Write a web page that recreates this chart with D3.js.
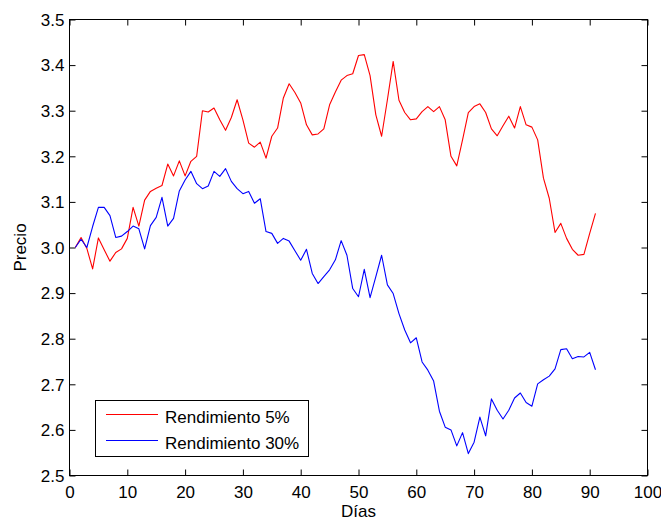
<!DOCTYPE html>
<html>
<head>
<meta charset="utf-8">
<script src="https://cdn.jsdelivr.net/npm/d3@7"></script>
<style>
  html, body { margin: 0; padding: 0; background: #fff; }
  svg { display: block; font-family: "Liberation Sans", Arial, sans-serif; }
</style>
</head>
<body>
<svg id="chart" width="661" height="522"></svg>
<script>
// Simulated price paths, one value per trading day (days 1..91)
const days = d3.range(1, 92);

const rend5 = [
  3.000, 3.022, 2.998, 2.953, 3.021, 2.995, 2.970, 2.989, 2.997, 3.020,
  3.088, 3.047, 3.104, 3.123, 3.130, 3.136, 3.183, 3.157, 3.190, 3.157,
  3.189, 3.200, 3.300, 3.297, 3.306, 3.280, 3.257, 3.285, 3.324, 3.280,
  3.229, 3.220, 3.231, 3.196, 3.244, 3.262, 3.328, 3.359, 3.340, 3.317,
  3.269, 3.247, 3.249, 3.260, 3.313, 3.341, 3.367, 3.377, 3.381, 3.421,
  3.423, 3.377, 3.291, 3.244, 3.324, 3.408, 3.323, 3.296, 3.280, 3.282,
  3.298, 3.309, 3.298, 3.309, 3.280, 3.200, 3.179, 3.236, 3.296, 3.309,
  3.315, 3.296, 3.260, 3.245, 3.267, 3.288, 3.262, 3.309, 3.269, 3.264,
  3.236, 3.152, 3.108, 3.033, 3.053, 3.020, 2.996, 2.983, 2.985, 3.031,
  3.075
];

const rend30 = [
  3.000, 3.018, 3.000, 3.046, 3.088, 3.088, 3.070, 3.022, 3.025, 3.035,
  3.047, 3.041, 2.997, 3.048, 3.066, 3.110, 3.047, 3.064, 3.124, 3.148,
  3.167, 3.140, 3.129, 3.135, 3.167, 3.156, 3.173, 3.145, 3.129, 3.118,
  3.123, 3.097, 3.107, 3.035, 3.031, 3.009, 3.020, 3.014, 2.993, 2.972,
  2.996, 2.943, 2.921, 2.936, 2.951, 2.973, 3.015, 2.983, 2.910, 2.892,
  2.952, 2.890, 2.936, 2.983, 2.918, 2.899, 2.855, 2.819, 2.791, 2.802,
  2.749, 2.731, 2.707, 2.641, 2.606, 2.600, 2.565, 2.594, 2.548, 2.573,
  2.628, 2.587, 2.668, 2.643, 2.624, 2.643, 2.670, 2.681, 2.660, 2.652,
  2.701, 2.710, 2.718, 2.734, 2.776, 2.778, 2.756, 2.761, 2.760, 2.770,
  2.732
];

const seriesNames = ["Rendimiento 5%", "Rendimiento 30%"];
const seriesColors = ["#ff0000", "#0000ff"];
const xTicks = [0, 10, 20, 30, 40, 50, 60, 70, 80, 90, 100];
const yTicks = [2.5, 2.6, 2.7, 2.8, 2.9, 3.0, 3.1, 3.2, 3.3, 3.4, 3.5];

const svg = d3.select("#chart");
const plotLeft = 69.5, plotRight = 647.5, plotTop = 19.5, plotBottom = 475.5;
const fontSize = 17;

const x = d3.scaleLinear().domain([0, 100]).range([plotLeft, plotRight]);
const y = d3.scaleLinear().domain([2.5, 3.5]).range([plotBottom, plotTop]);

// Axes with inward ticks on all four sides
const tick = 6;
const gx = svg.append("g").attr("transform", `translate(0,${plotBottom})`)
  .call(d3.axisBottom(x).tickValues(xTicks).tickSizeInner(-tick).tickSizeOuter(0).tickPadding(10)
    .tickFormat(d3.format("d")));
const gy = svg.append("g").attr("transform", `translate(${plotLeft},0)`)
  .call(d3.axisLeft(y).tickValues(yTicks).tickSizeInner(-tick).tickSizeOuter(0).tickPadding(5)
    .tickFormat(d => d3.format(".1f")(d)));
const gt = svg.append("g").attr("transform", `translate(0,${plotTop})`)
  .call(d3.axisTop(x).tickValues(xTicks).tickSizeInner(-tick).tickSizeOuter(0).tickFormat(""));
const gr = svg.append("g").attr("transform", `translate(${plotRight},0)`)
  .call(d3.axisRight(y).tickValues(yTicks).tickSizeInner(-tick).tickSizeOuter(0).tickFormat(""));

[gx, gy, gt, gr].forEach(g => {
  g.select(".domain").remove();
  g.selectAll("line").attr("stroke", "#000").attr("stroke-width", 1);
  g.selectAll("text").attr("font-size", fontSize).attr("fill", "#000")
    .attr("font-family", "'Liberation Sans', Arial, sans-serif");
});
gy.selectAll("text").attr("dy", "0.34em");

// Plot box
svg.append("rect")
  .attr("x", plotLeft).attr("y", plotTop)
  .attr("width", plotRight - plotLeft).attr("height", plotBottom - plotTop)
  .attr("fill", "none").attr("stroke", "#000").attr("stroke-width", 1);

// Price lines
const line = d3.line().x((d, i) => x(days[i])).y(d => y(d));
[rend5, rend30].forEach((vals, k) => {
  svg.append("path")
    .datum(vals)
    .attr("d", line)
    .attr("fill", "none")
    .attr("stroke", seriesColors[k])
    .attr("stroke-width", 1.1)
    .attr("stroke-linejoin", "round");
});

// Axis labels
svg.append("text")
  .attr("x", (plotLeft + plotRight) / 2).attr("y", 517)
  .attr("text-anchor", "middle").attr("font-size", fontSize)
  .text("Días");
svg.append("text")
  .attr("transform", `translate(26,${(plotTop + plotBottom) / 2}) rotate(-90)`)
  .attr("text-anchor", "middle").attr("font-size", fontSize)
  .text("Precio");

// Legend
const lg = svg.append("g");
lg.append("rect")
  .attr("x", 95.5).attr("y", 400.5).attr("width", 213).attr("height", 56)
  .attr("fill", "#fff").attr("stroke", "#000").attr("stroke-width", 1);
seriesNames.forEach((name, k) => {
  const yy = 414.5 + k * 26;
  lg.append("line")
    .attr("x1", 106).attr("x2", 158).attr("y1", yy).attr("y2", yy)
    .attr("stroke", seriesColors[k]).attr("stroke-width", 1.1);
  lg.append("text")
    .attr("x", 165).attr("y", yy + 8.5)
    .attr("font-size", fontSize)
    .text(name);
});
</script>
</body>
</html>
